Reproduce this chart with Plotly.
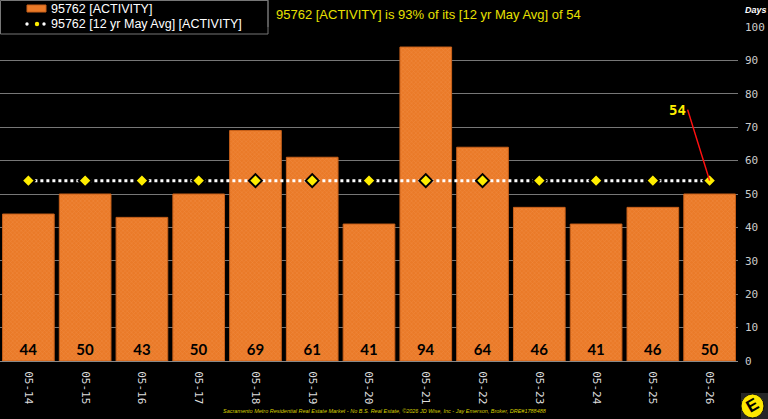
import plotly.graph_objects as go

categories = ["05-14", "05-15", "05-16", "05-17", "05-18", "05-19", "05-20",
              "05-21", "05-22", "05-23", "05-24", "05-25", "05-26"]
activity = [44, 50, 43, 50, 69, 61, 41, 94, 64, 46, 41, 46, 50]
avg_value = 54
avg_line = [avg_value] * len(categories)
y_ticks = [0, 10, 20, 30, 40, 50, 60, 70, 80, 90, 100]
series_names = ["95762 [ACTIVITY]", "95762 [12 yr May Avg] [ACTIVITY]"]

BAR_COLOR = "#EA7A28"
PLOT_W, PLOT_H, PLOT_BOTTOM = 738.0, 334.0, 361.0


def px(x):
    return x / PLOT_W


def py(y):
    return (PLOT_BOTTOM - y) / PLOT_H


fig = go.Figure()
fig.add_trace(go.Bar(
    x=categories, y=activity, name=series_names[0], showlegend=False,
    marker=dict(color=BAR_COLOR, line=dict(color="#C8601A", width=1),
                pattern=dict(shape="x", fgcolor="#F39A58", size=3, solidity=0.3)),
    texttemplate="%{y:.0f}", textposition="inside", insidetextanchor="start",
    textfont=dict(family="Lato, Open Sans, sans-serif", size=15, color="#000000", weight="bold"),
    textangle=0,
))
fig.add_trace(go.Scatter(
    x=categories, y=avg_line, name=series_names[1], showlegend=False,
    mode="lines+markers",
    line=dict(color="white", width=3, dash="dot"),
    marker=dict(symbol="diamond", size=10, color="#FFEE00", line=dict(color="black", width=2)),
))

fig.add_annotation(
    x=categories[-1], y=avg_line[-1], text="<b>54</b>", showarrow=True,
    arrowhead=0, arrowcolor="#FF1010", arrowwidth=1.5, ax=-22, ay=-71,
    font=dict(color="#FFEE00", size=14, family="DejaVu Sans Mono"),
    xanchor="right",
)
fig.add_annotation(
    xref="paper", yref="paper", x=px(274), y=py(15), xanchor="left", yanchor="middle",
    text="95762 [ACTIVITY] is 93% of its [12 yr May Avg] of 54", showarrow=False,
    font=dict(color="#E8E000", size=13, family="Liberation Sans, Arial"),
)
fig.add_annotation(
    xref="paper", yref="paper", x=px(756), y=py(10), xanchor="center", yanchor="middle",
    text="<b><i>Days</i></b>", showarrow=False,
    font=dict(color="white", size=9, family="Liberation Sans, Arial"),
)
fig.add_annotation(
    xref="paper", yref="paper", x=px(385), y=py(411), xanchor="center", yanchor="middle",
    text="<i>Sacramento Metro Residential Real Estate Market - No B.S. Real Estate, ©2026 JD Wise, Inc - Jay Emerson, Broker, DRE#1788488</i>",
    showarrow=False,
    font=dict(color="#D8D000", size=5.5, family="Liberation Sans, Arial"),
)

# custom legend box
fig.add_shape(type="rect", xref="paper", yref="paper", x0=px(0.5), x1=px(268), y0=py(0.5), y1=py(34),
              fillcolor="black", line=dict(color="#777", width=1), layer="above")
fig.add_shape(type="rect", xref="paper", yref="paper", x0=px(27), x1=px(46), y0=py(5), y1=py(12),
              fillcolor=BAR_COLOR, line=dict(color="#C8601A", width=1), layer="above")
for cx, col in [(27, "white"), (37, "#FFEE00"), (44, "white")]:
    r = 1.7 if col == "white" else 2.2
    fig.add_shape(type="circle", xref="paper", yref="paper",
                  x0=px(cx - r), x1=px(cx + r), y0=py(24 - r), y1=py(24 + r),
                  fillcolor=col, line=dict(width=0), layer="above")
for name, yy in zip(series_names, [9, 24]):
    fig.add_annotation(xref="paper", yref="paper", x=px(49), y=py(yy), xanchor="left", yanchor="middle",
                       text=name, showarrow=False,
                       font=dict(color="white", size=12.5, family="Liberation Sans, Arial"))

# logo
fig.add_shape(type="rect", xref="paper", yref="paper", x0=px(741), x1=px(768), y0=py(393), y1=py(419),
              fillcolor="#262626", line=dict(width=0), layer="below")
fig.add_shape(type="circle", xref="paper", yref="paper", xsizemode="pixel", ysizemode="pixel",
              xanchor=px(752.5), yanchor=py(406), x0=-11.5, x1=11.5, y0=-12, y1=12,
              fillcolor="#FFE800", line=dict(color="#111", width=1), layer="below")
fig.add_annotation(xref="paper", yref="paper", x=px(752.5), y=py(406), xanchor="center", yanchor="middle",
                   text="<b>E</b>", showarrow=False, textangle=-30,
                   font=dict(color="#000000", size=17, family="Liberation Sans, Arial"))
# title box border
fig.add_shape(type="line", xref="paper", yref="paper", x0=px(268), x1=px(268), y0=py(0), y1=py(27),
              line=dict(color="#777", width=1))

fig.update_layout(
    width=768, height=419,
    margin=dict(l=0, r=30, t=27, b=58, autoexpand=False),
    paper_bgcolor="black", plot_bgcolor="black",
    bargap=0.09,
    showlegend=False,
    xaxis=dict(
        type="category", range=[-0.5, 12.5], tickangle=90,
        tickfont=dict(color="#DDDDDD", size=11, family="DejaVu Sans Mono"),
        showgrid=False, showline=True, linecolor="#888", linewidth=1, ticks="",
        ticklabelstandoff=7,
    ),
    yaxis=dict(
        side="right", range=[0, 100], tickvals=y_ticks,
        tickfont=dict(color="#CCCCCC", size=11, family="DejaVu Sans Mono"),
        showgrid=True, gridcolor="#777", gridwidth=1, zeroline=False,
        ticks="", ticklabelstandoff=6,
    ),
)

fig.write_html("out.html")
